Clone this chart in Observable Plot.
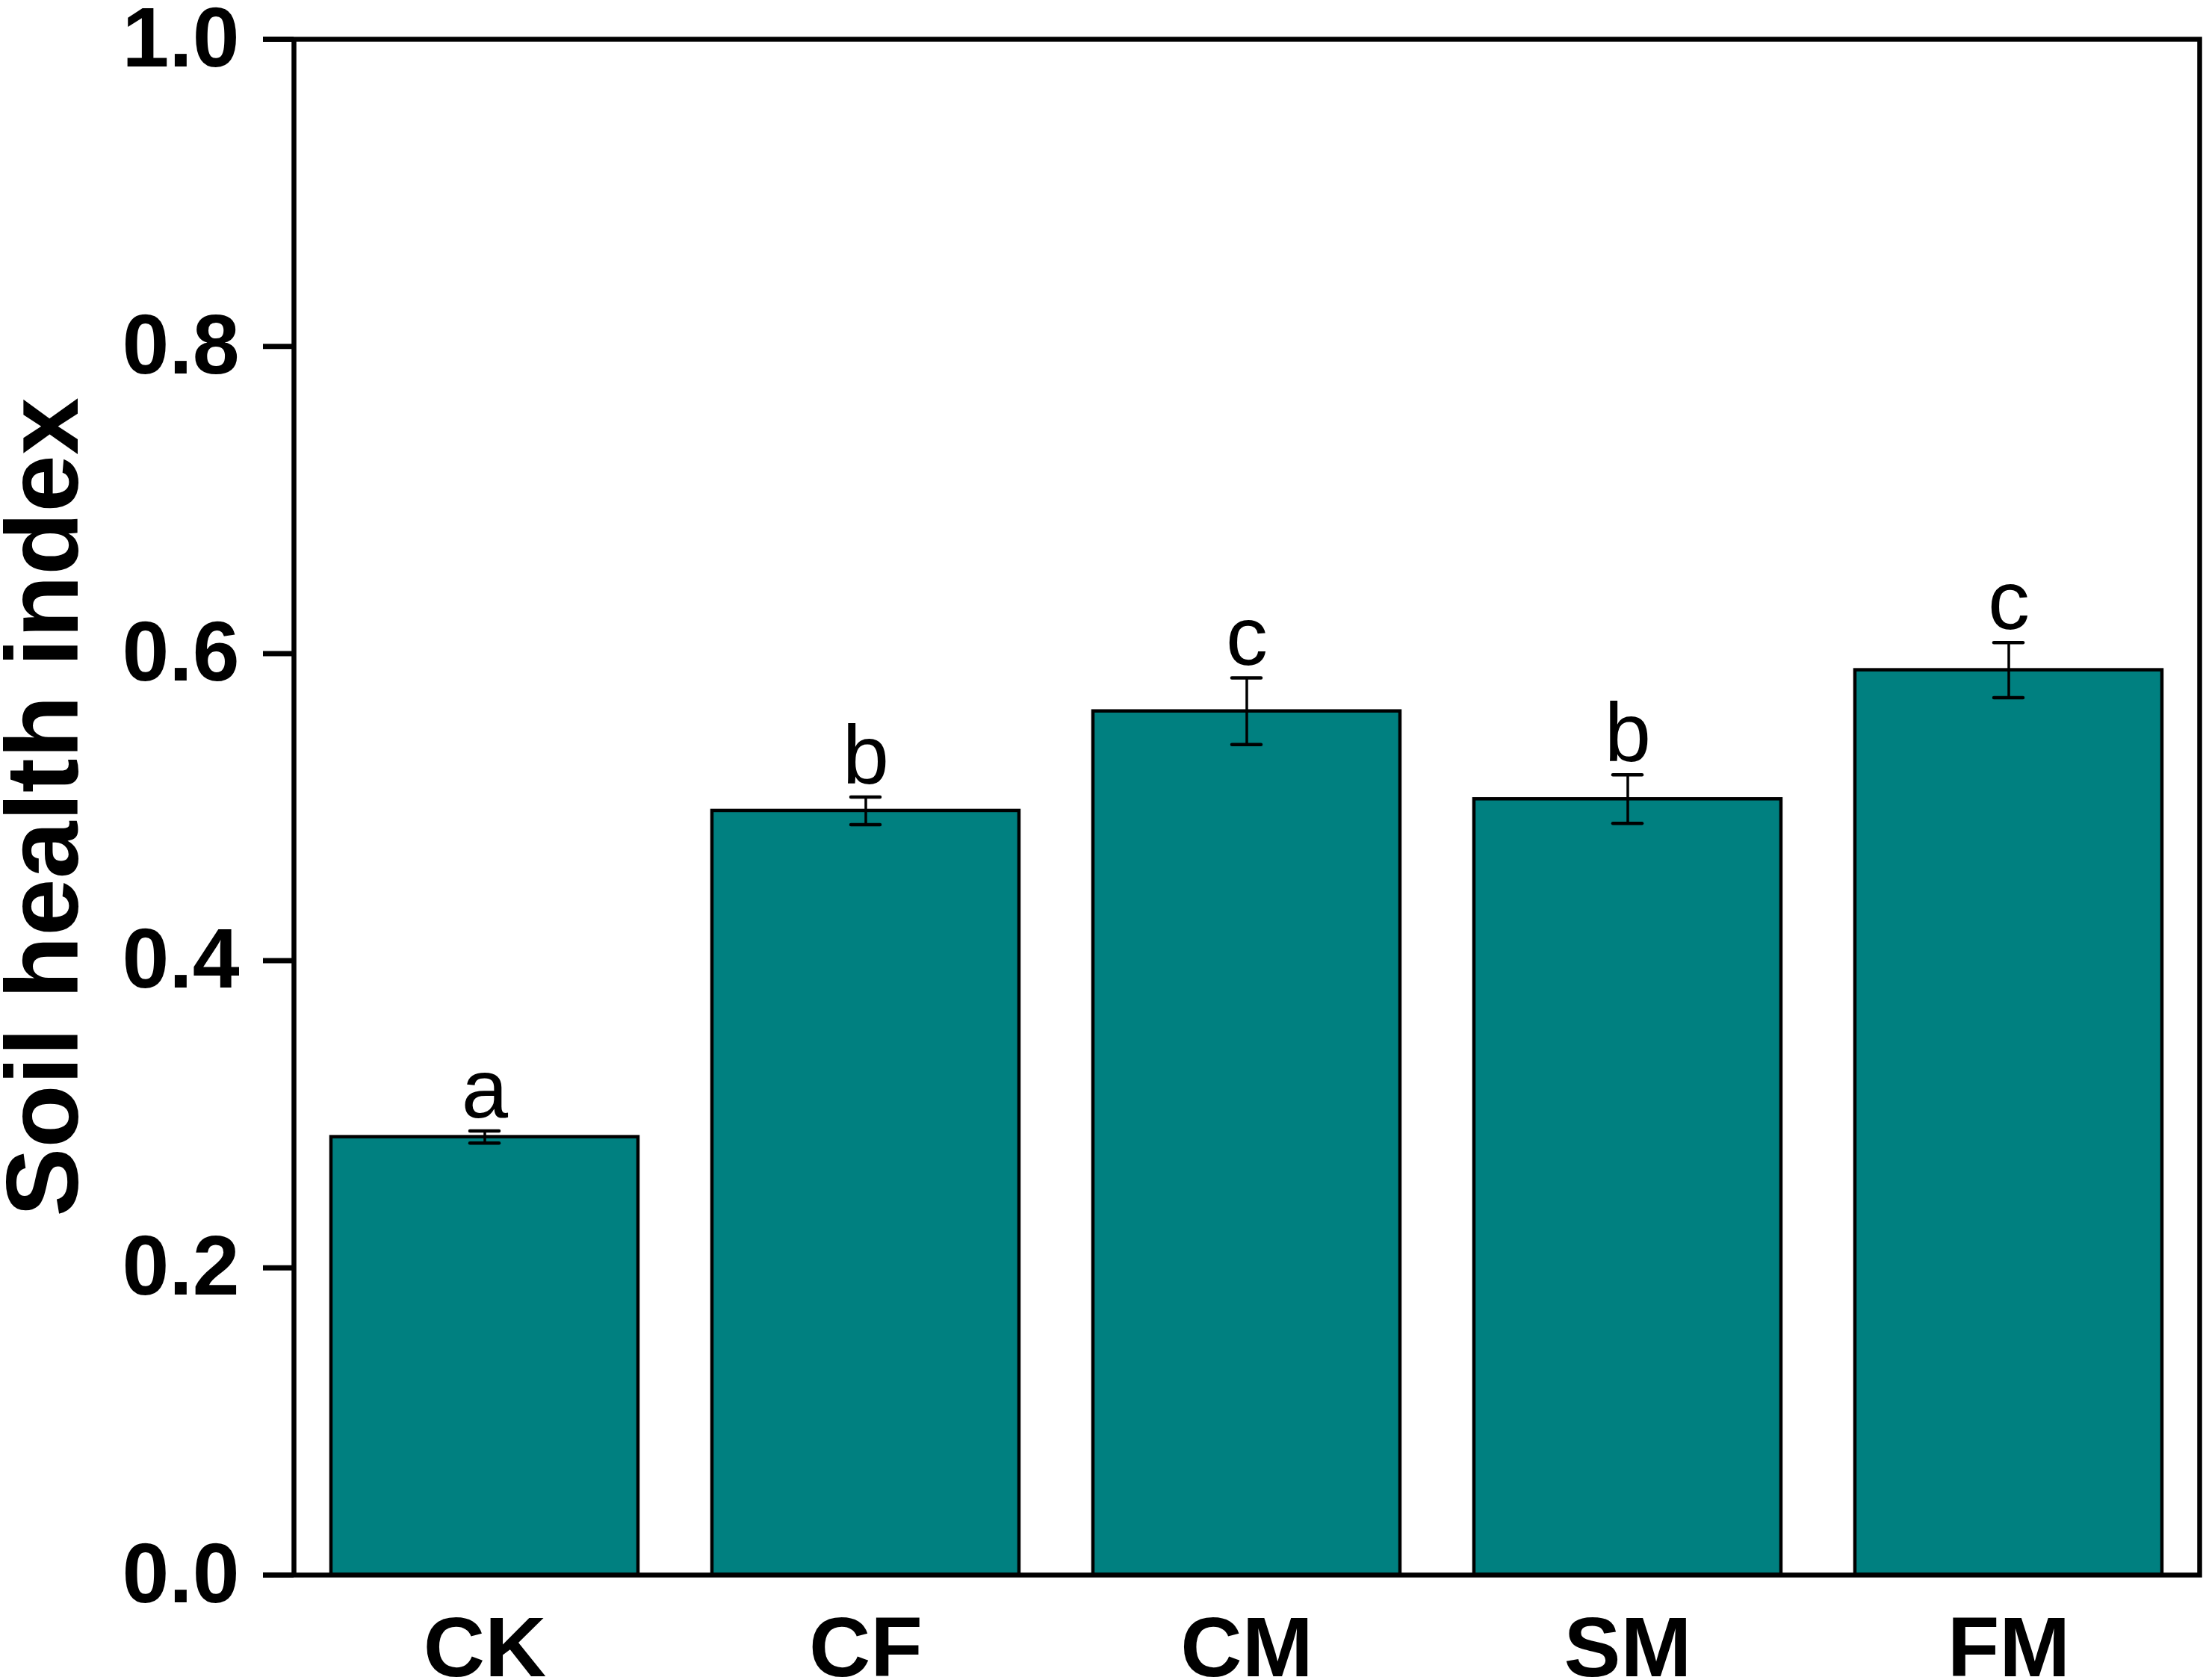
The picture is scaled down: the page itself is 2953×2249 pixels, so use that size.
<!DOCTYPE html>
<html>
<head>
<meta charset="utf-8">
<script src="https://cdn.jsdelivr.net/npm/d3@7"></script>
<script src="https://cdn.jsdelivr.net/npm/@observablehq/plot@0.6"></script>
<style>
  html, body { margin: 0; padding: 0; background: #fff; }
</style>
</head>
<body>
<div id="chart"></div>
<script>
const treatments = ["CK", "CF", "CM", "SM", "FM"];
const means = [0.2852, 0.4976, 0.5624, 0.5052, 0.5892];
const errors = [0.0039, 0.0090, 0.0217, 0.0158, 0.0179];
const letters = ["a", "b", "c", "b", "c"];
const yTicks = [0, 0.2, 0.4, 0.6, 0.8, 1.0];
const yLabel = "Soil health index";

const data = treatments.map((t, i) => ({
  t, mean: means[i], lo: means[i] - errors[i], hi: means[i] + errors[i], letter: letters[i]
}));

const font = "'Liberation Sans', Arial, Helvetica, sans-serif";

const chart = Plot.plot({
  width: 2953,
  height: 2249,
  marginTop: 52,
  marginBottom: 141,
  marginLeft: 393,
  marginRight: 9,
  style: { fontFamily: font, background: "#fff", color: "#000" },
  x: { domain: treatments, paddingInner: 0.194, paddingOuter: 0.097 },
  y: { domain: [0, 1] },
  marks: [
    Plot.barY(data, { x: "t", y: "mean", fill: "#008080", stroke: "#000", strokeWidth: 4.5 }),
    Plot.ruleX(data, { x: "t", y1: "lo", y2: "hi", stroke: "#000", strokeWidth: 3.5 }),
    Plot.tickY(data, { x: "t", y: "lo", stroke: "#000", strokeWidth: 4.5, strokeLinecap: "round", insetLeft: 186, insetRight: 186 }),
    Plot.tickY(data, { x: "t", y: "hi", stroke: "#000", strokeWidth: 4.5, strokeLinecap: "round", insetLeft: 186, insetRight: 186 }),
    Plot.text(data, { x: "t", y: "hi", text: "letter", dy: -18, lineAnchor: "bottom", fontSize: 112, fontWeight: "normal", fill: "#000" }),
    Plot.frame({ stroke: "#000", strokeWidth: 6.5 }),
    Plot.axisY({ ticks: yTicks, tickFormat: d3.format(".1f"), tickSize: 41, tickPadding: 32, strokeWidth: 7, fontSize: 113, fontWeight: "bold", label: null }),
    Plot.axisX({ tickSize: 0, tickPadding: 55, fontSize: 114, fontWeight: "bold", label: null }),
    Plot.text([yLabel], { frameAnchor: "left", dx: -290, rotate: -90, lineAnchor: "bottom", textAnchor: "middle", fontSize: 138, fontWeight: "bold", fill: "#000" })
  ]
});

document.getElementById("chart").appendChild(chart);
</script>
</body>
</html>
